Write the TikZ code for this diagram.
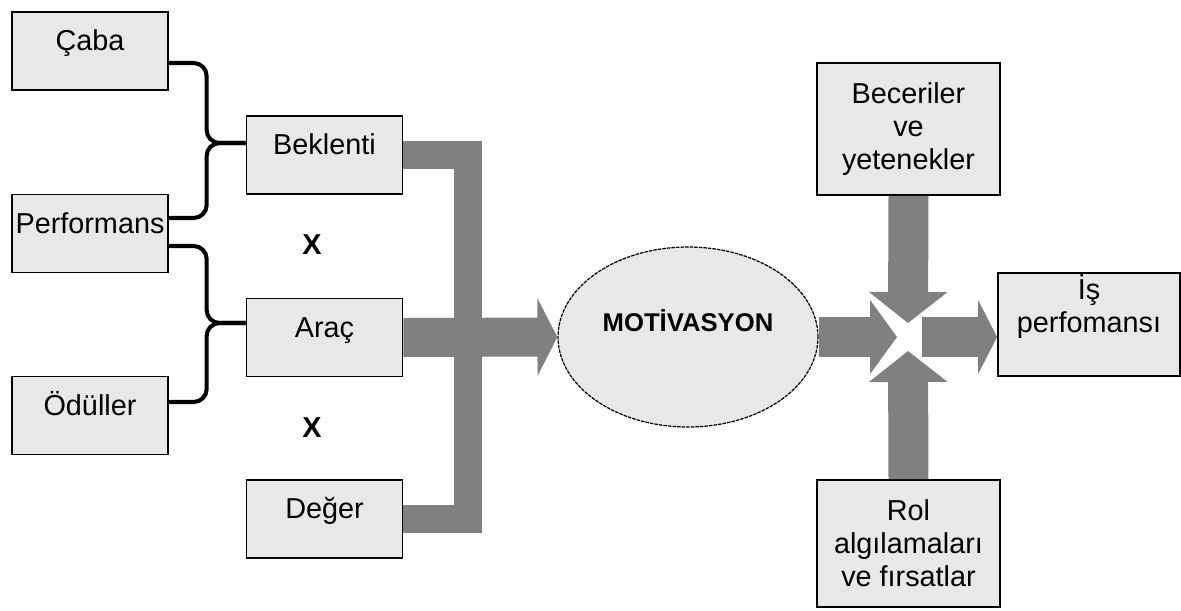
\documentclass[tikz,border=0pt]{standalone}
\usepackage{fontspec}
\setmainfont{Liberation Sans}
\usetikzlibrary{arrows.meta,shapes.geometric}
\definecolor{boxgray}{HTML}{E8E8E8}
\definecolor{bandgray}{HTML}{808080}
\begin{document}
\begin{tikzpicture}[x=0.02cm,y=-0.02cm,
  font=\fontsize{16.4}{18.8}\selectfont,
  box/.style={draw,line width=1pt,fill=boxgray,inner sep=0pt,minimum width=3.12cm,
    text height=0.77cm,text depth=0.79cm},
  tallbox/.style={draw,line width=1pt,fill=boxgray,inner sep=0pt,minimum width=3.66cm,align=center},
  brace/.style={line width=2.3pt,rounded corners=0.26cm},
  band/.style={draw=bandgray,line join=miter}]
  \useasboundingbox (0,0) rectangle (1181,610);
  % left column
  \node[box] (caba) at (90,51) {Çaba};
  \node[box] (perf) at (90,233.5) {Performans};
  \node[box] (odul) at (90,415.5) {Ödüller};
  \node[box] (bek) at (324.5,155) {Beklenti};
  \node[box] (ara) at (324.5,337.5) {Araç};
  \node[box] (deg) at (324.5,519) {Değer};
  \node[font=\fontsize{16.4}{18.8}\selectfont\bfseries] (x1) at (312,245) {X};
  \node[font=\fontsize{16.4}{18.8}\selectfont\bfseries] (x2) at (312,428) {X};
  \coordinate (bekin) at ([yshift=0.24cm]bek.west);
  \coordinate (arain) at ([yshift=0.29cm]ara.west);
  \draw[brace] ([yshift=-0.24cm]caba.east) -| ([xshift=-0.78cm]bekin) -- (bekin);
  \draw[brace] ([yshift=0.31cm]perf.east) -| ([xshift=-0.78cm]bekin) -- (bekin);
  \draw[brace] ([yshift=-0.25cm]perf.east) -| ([xshift=-0.78cm]arain) -- (arain);
  \draw[brace] ([yshift=0.27cm]odul.east) -| ([xshift=-0.78cm]arain) -- (arain);
  % middle
  \node[ellipse,draw,dash pattern=on 2pt off 0.6pt,line width=0.7pt,fill=boxgray,inner sep=0pt,
    minimum width=5.2cm,minimum height=3.6cm,font=\fontsize{14.6}{17}\selectfont\bfseries,
    text height=0.4cm,text depth=0.64cm] (mot) at (688,337) {MOTİVASYON};
  \coordinate (bus) at (467.5,337);
  \draw[band,line width=0.56cm] (bek.east) -| (bus) |- (deg.east);
  \draw[band,line width=0.78cm,-{Triangle[length=0.4cm,width=1.54cm]}] (ara.east) -- (mot.west);
  % right side
  \node[tallbox,minimum height=2.64cm] (bec) at (908.5,129) {Beceriler\\ve\\yetenekler};
  \node[tallbox,minimum height=2.54cm] (rol) at (908.5,543.5) {Rol\\algılamaları\\ve fırsatlar};
  \node[tallbox,minimum width=3.64cm,minimum height=2.06cm] (is) at (1089,324.5) {İş\\perfomansı\\\strut};
  \coordinate (hub) at (908,337);
  \draw[band,line width=0.8cm,-{Triangle[length=0.54cm,width=1.46cm]}] (mot.east) -- ([xshift=-0.22cm]hub);
  \draw[band,line width=0.8cm,-{Triangle[length=0.62cm,width=1.54cm]}] (bec.south) -- ([yshift=0.28cm]hub);
  \draw[band,line width=0.8cm,-{Triangle[length=0.62cm,width=1.54cm]}] (rol.north) -- ([yshift=-0.28cm]hub);
  \draw[band,line width=0.8cm,-{Triangle[length=0.38cm,width=1.46cm]}] ([xshift=0.28cm]hub) -- (hub -| is.west);
\end{tikzpicture}
\end{document}
